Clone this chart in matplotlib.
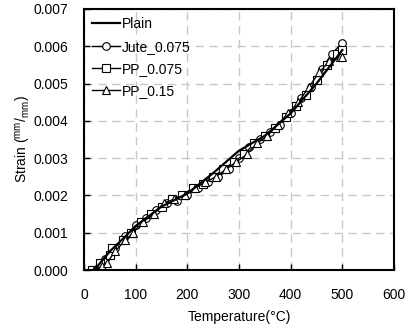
import matplotlib
matplotlib.use("Agg")
import matplotlib.pyplot as plt

plt.rcParams['font.family'] = ['Liberation Sans', 'DejaVu Sans']
plt.rcParams['mathtext.fontset'] = 'custom'
plt.rcParams['mathtext.rm'] = 'Liberation Sans'

# data
plain_t = [20, 50, 80, 100, 150, 200, 250, 300, 350, 400, 450, 500]
plain_s = [0.0, 0.0005, 0.0009, 0.00118, 0.0017, 0.00205, 0.0026, 0.0032, 0.0036, 0.0042, 0.0050, 0.0059]

jute_t = [20, 40, 60, 80, 100, 120, 140, 160, 180, 200, 220, 240, 260, 280, 300,
          320, 340, 360, 380, 400, 420, 440, 460, 480, 500]
jute_s = [0.0, 0.0003, 0.0006, 0.0009, 0.0012, 0.0014, 0.0016, 0.0018, 0.00185, 0.0020,
          0.0022, 0.00235, 0.0025, 0.0027, 0.0030, 0.0033, 0.0035, 0.0037, 0.0039, 0.0042,
          0.0046, 0.0049, 0.0054, 0.0058, 0.0061]

pp075_t = [15, 30, 50, 55, 75, 90, 110, 130, 150, 170, 190, 210, 230, 250, 270, 290,
           310, 330, 350, 370, 390, 410, 430, 450, 470, 490, 500]
pp075_s = [0.0, 0.0002, 0.0004, 0.0006, 0.0008, 0.0010, 0.0013, 0.0015, 0.0017, 0.0019,
           0.0020, 0.0022, 0.0023, 0.0025, 0.0027, 0.0029, 0.0031, 0.0034, 0.0036, 0.0038,
           0.0041, 0.0044, 0.0047, 0.0051, 0.0055, 0.0058, 0.0059]

pp15_t = [20, 35, 45, 60, 80, 95, 115, 135, 155, 175, 195, 215, 235, 255, 275, 295,
          315, 335, 355, 375, 395, 415, 435, 455, 475, 495, 500]
pp15_s = [0.0, 0.0001, 0.0002, 0.0005, 0.0008, 0.0010, 0.0013, 0.0015, 0.0018, 0.0019,
          0.0020, 0.0022, 0.00235, 0.0025, 0.0027, 0.0029, 0.0031, 0.0034, 0.0036, 0.0039,
          0.0042, 0.0045, 0.0049, 0.0053, 0.0056, 0.0057, 0.0057]

fig = plt.figure(figsize=(4.14, 3.3), dpi=100)
ax = fig.add_axes([84 / 414, 1 - 270 / 330, 310 / 414, 261 / 330])

mk = dict(color='black', lw=1.0, markerfacecolor='white', markeredgecolor='black',
          markersize=5.5, markeredgewidth=0.8)
ax.plot(plain_t, plain_s, color='black', lw=1.6, label='Plain', zorder=5)
ax.plot(jute_t, jute_s, marker='o', label='Jute_0.075', **mk)
ax.plot(pp075_t, pp075_s, marker='s', label='PP_0.075', **mk)
ax.plot(pp15_t, pp15_s, marker='^', label='PP_0.15', **mk)

ax.set_xlim(0, 600)
ax.set_ylim(0, 0.007)
ax.set_xticks(range(0, 601, 100))
ax.set_yticks([i * 0.001 for i in range(8)])
ax.set_yticklabels(['%.3f' % (i * 0.001) for i in range(8)])
ax.tick_params(direction='in', length=4, width=1, labelsize=10)
ax.tick_params(axis='x', pad=13)
ax.tick_params(axis='y', pad=11.5)
ax.grid(True, color='#c8c8c8', linestyle=(0, (6, 4)), lw=1)
for sp in ax.spines.values():
    sp.set_linewidth(1.5)

ax.set_xlabel('Temperature(°C)', fontsize=10, labelpad=6)
ax.set_ylabel(r'Strain ($^{\mathrm{mm}}/_{\mathrm{mm}}$)', fontsize=10, labelpad=0)

leg = ax.legend(loc='upper left', frameon=False, fontsize=10, handlelength=2.0,
                handletextpad=0.15, borderaxespad=0.2, labelspacing=0.6)

fig.savefig('out.png', dpi=100)
